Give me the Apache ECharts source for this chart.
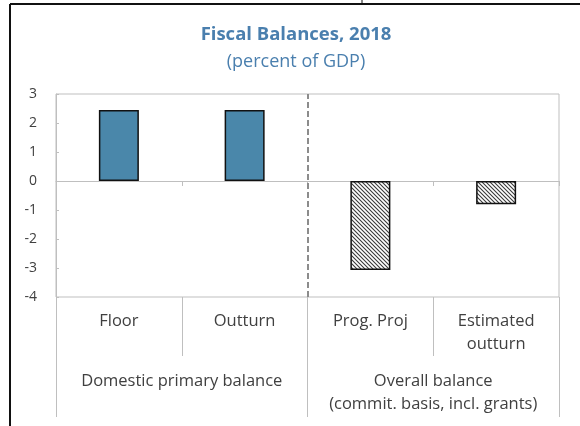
<!DOCTYPE html>
<html><head><meta charset="utf-8">
<script src="https://cdn.jsdelivr.net/npm/echarts@6/dist/echarts.min.js"></script>
<style>html,body{margin:0;padding:0;background:#fff}#c{width:580px;height:426px}</style>
</head><body><div id="c"></div>
<script>
const categories = ['Floor', 'Outturn', 'Prog. Proj', 'Estimated\noutturn'];
const groups = ['Domestic primary balance', 'Overall balance\n(commit. basis, incl. grants)'];
const domesticValues = [2.45, 2.45, '-', '-'];
const overallValues = ['-', '-', -3.07, -0.8];
const yTicks = [-4, -3, -2, -1, 0, 1, 2, 3];
const dividerPosition = 2;

const FONT = '"Open Sans", "Noto Sans", sans-serif';
const hatch = document.createElement('canvas');
hatch.width = 4; hatch.height = 4;
(function(){
  const g = hatch.getContext('2d');
  g.fillStyle = '#fff'; g.fillRect(0,0,4,4);
  g.strokeStyle = '#3a3a3a'; g.lineWidth = 1.1;
  g.beginPath();
  g.moveTo(-1,-1); g.lineTo(5,5);
  g.moveTo(-1,3); g.lineTo(1,5);
  g.moveTo(3,-1); g.lineTo(5,1);
  g.stroke();
})();

const chart = echarts.init(document.getElementById('c'), null, {renderer:'canvas'});
const grid = {left:56, right:21, top:94, bottom:129, show:true, borderColor:'#bfbfbf', borderWidth:1, containLabel:false};
const catLabel = {interval:0, fontFamily:FONT, fontSize:16.5, color:'#404040', lineHeight:23, verticalAlign:'top'};
chart.setOption({
  animation:false,
  backgroundColor:'#fff',
  title:{
    text:'Fiscal Balances, 2018', subtext:'(percent of GDP)',
    left:291, top:20, textAlign:'center', itemGap:9,
    textStyle:{fontFamily:FONT, fontSize:18.5, fontWeight:'bold', color:'#4a7fae'},
    subtextStyle:{fontFamily:FONT, fontSize:18, color:'#4a7fae'}
  },
  grid:grid,
  xAxis:[
    {type:'category', data:categories, axisLine:{onZero:true, lineStyle:{color:'#bfbfbf'}},
     axisTick:{show:true, length:5, lineStyle:{color:'#bfbfbf'}}, axisLabel:{show:false}},
    {type:'category', data:categories, position:'bottom', axisLine:{show:false, onZero:false},
     axisTick:{show:true, interval:0, length:59, lineStyle:{color:'#bfbfbf'}},
     axisLabel:Object.assign({margin:13}, catLabel)},
    {type:'category', data:groups, position:'bottom', axisLine:{show:false, onZero:false},
     axisTick:{show:true, interval:0, length:120, lineStyle:{color:'#bfbfbf'}},
     axisLabel:Object.assign({margin:73}, catLabel)},
    {type:'value', min:0, max:4, show:false}
  ],
  yAxis:{type:'value', min:yTicks[0], max:yTicks[yTicks.length-1], interval:1,
    splitLine:{show:false},
    axisLine:{show:true, lineStyle:{color:'#bfbfbf'}},
    axisTick:{show:true, inside:true, length:3, lineStyle:{color:'#bfbfbf'}},
    axisLabel:{margin:19, fontFamily:FONT, fontSize:14, color:'#404040'}},
  series:[
    {type:'bar', xAxisIndex:0, data:domesticValues, barWidth:40, barGap:'-100%',
     itemStyle:{color:'#4a87aa', borderColor:'#111', borderWidth:1.5}},
    {type:'bar', xAxisIndex:0, data:overallValues, barWidth:40, barGap:'-100%',
     itemStyle:{color:{image:hatch, repeat:'repeat'}, borderColor:'#111', borderWidth:1.5}},
    {type:'line', xAxisIndex:3, data:[], silent:true,
     markLine:{symbol:'none', silent:true, label:{show:false},
       lineStyle:{type:[6,3], color:'#8c8c8c', width:2},
       data:[{xAxis:dividerPosition}]}}
  ],
  graphic:[
    {type:'line', shape:{x1:10, y1:4, x2:580, y2:4}, style:{stroke:'#111', lineWidth:2}},
    {type:'line', shape:{x1:10, y1:4, x2:10, y2:426}, style:{stroke:'#111', lineWidth:2}},
    {type:'line', shape:{x1:362, y1:0, x2:362, y2:4}, style:{stroke:'#111', lineWidth:1}}
  ]
});
</script></body></html>
